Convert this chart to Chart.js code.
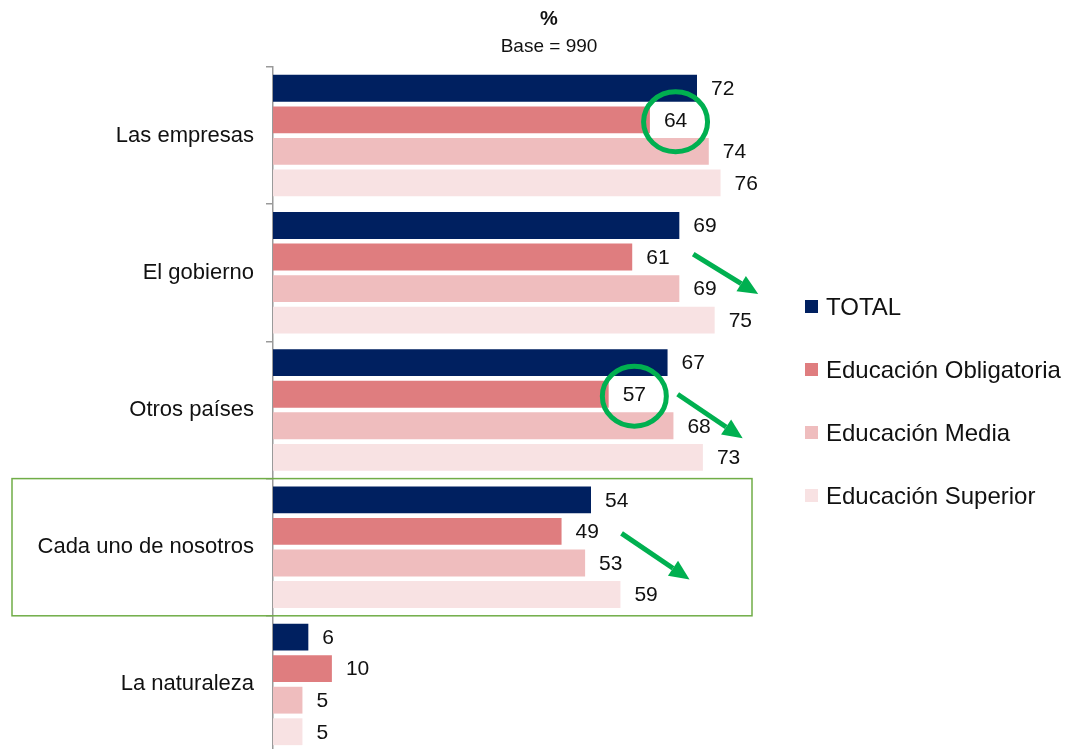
<!DOCTYPE html>
<html>
<head>
<meta charset="utf-8">
<script src="https://cdn.jsdelivr.net/npm/chart.js@4/dist/chart.umd.min.js"></script>
<style>
html,body{margin:0;padding:0;background:#fff;overflow:hidden;}
#wrap{width:1070px;height:753px;position:relative;}
</style>
</head>
<body>
<div id="wrap"><canvas id="c" width="1070" height="753"></canvas></div>
<script>
const categories = ["Las empresas", "El gobierno", "Otros países", "Cada uno de nosotros", "La naturaleza"];
const seriesNames = ["TOTAL", "Educación Obligatoria", "Educación Media", "Educación Superior"];
const total = [72, 69, 67, 54, 6];
const obligatoria = [64, 61, 57, 49, 10];
const media = [74, 69, 68, 53, 5];
const superior = [76, 75, 73, 59, 5];
const colors = ["#002060", "#DF7D7F", "#EFBDBE", "#F8E2E3"];
const titleText = "%";
const subtitleText = "Base = 990";
const circled = [[1, 0], [1, 2]];          // [dataset, category] labels circled
const arrowBars = [[1, 1], [1, 2], [1, 3]]; // arrows drawn after these bars
const boxedCategory = 3;

const FONT = "'Liberation Sans', Arial, sans-serif";
const GREEN = "#00B050";
// arrow geometry relative to the bar end: [startDx, startDy, vecX, vecY]
const arrowGeom = [[61, -3, 65, 40], [69, 0, 65, 44], [60, 2, 68, 46]];

const annotate = {
  id: 'annotate',
  afterDatasetsDraw(chart) {
    const ctx = chart.ctx;
    ctx.save();
    // titles
    ctx.fillStyle = "#111";
    ctx.textAlign = "center";
    ctx.textBaseline = "middle";
    ctx.font = "bold 20px " + FONT;
    ctx.fillText(titleText, 549, 19);
    ctx.font = "19px " + FONT;
    ctx.fillText(subtitleText, 549, 47);
    // value labels
    ctx.font = "21px " + FONT;
    ctx.textAlign = "left";
    chart.data.datasets.forEach((ds, i) => {
      chart.getDatasetMeta(i).data.forEach((el, j) => {
        ctx.fillText(String(ds.data[j]), el.x + 14, el.y + 1);
      });
    });
    // circles
    ctx.strokeStyle = GREEN;
    ctx.lineWidth = 5;
    circled.forEach(([d, j]) => {
      const el = chart.getDatasetMeta(d).data[j];
      const w = ctx.measureText(String(chart.data.datasets[d].data[j])).width;
      const cx = el.x + 14 + w / 2;
      ctx.beginPath();
      ctx.ellipse(cx, el.y + 2, 32, 30, 0, 0, Math.PI * 2);
      ctx.stroke();
    });
    // arrows
    arrowBars.forEach(([d, j], k) => {
      const el = chart.getDatasetMeta(d).data[j];
      const g = arrowGeom[k];
      const x0 = el.x + g[0], y0 = el.y + g[1];
      const x1 = x0 + g[2], y1 = y0 + g[3];
      const ang = Math.atan2(y1 - y0, x1 - x0);
      const hl = 20, hw = 9;
      const bx = x1 - hl * Math.cos(ang), by = y1 - hl * Math.sin(ang);
      ctx.strokeStyle = GREEN;
      ctx.fillStyle = GREEN;
      ctx.lineWidth = 5;
      ctx.beginPath();
      ctx.moveTo(x0, y0);
      ctx.lineTo(bx, by);
      ctx.stroke();
      ctx.beginPath();
      ctx.moveTo(x1, y1);
      ctx.lineTo(bx + hw * Math.sin(ang), by - hw * Math.cos(ang));
      ctx.lineTo(bx - hw * Math.sin(ang), by + hw * Math.cos(ang));
      ctx.closePath();
      ctx.fill();
    });
    // box around category
    const ys = chart.scales.y;
    const band = (ys.getPixelForValue(1) - ys.getPixelForValue(0));
    const cy = ys.getPixelForValue(boxedCategory);
    ctx.strokeStyle = "#70AD47";
    ctx.lineWidth = 1.5;
    ctx.strokeRect(12, cy - band / 2, chart.chartArea.left + 479 - 12, band);
    // legend
    ctx.font = "24px " + FONT;
    ctx.textBaseline = "middle";
    seriesNames.forEach((n, i) => {
      const y = 307 + i * 63;
      ctx.fillStyle = colors[i];
      ctx.fillRect(805, y - 7, 13, 13);
      ctx.fillStyle = "#111";
      ctx.fillText(n, 826, y + 1);
    });
    ctx.restore();
  }
};

new Chart(document.getElementById('c'), {
  type: 'bar',
  data: {
    labels: categories,
    datasets: [
      { label: seriesNames[0], data: total, backgroundColor: colors[0] },
      { label: seriesNames[1], data: obligatoria, backgroundColor: colors[1] },
      { label: seriesNames[2], data: media, backgroundColor: colors[2] },
      { label: seriesNames[3], data: superior, backgroundColor: colors[3] }
    ]
  },
  options: {
    indexAxis: 'y',
    responsive: false,
    animation: false,
    devicePixelRatio: 1,
    datasets: { bar: { categoryPercentage: 0.92, barPercentage: 0.85, borderWidth: 0 } },
    layout: { padding: { left: 28, right: 267, top: 67, bottom: 0 } },
    plugins: {
      legend: { display: false },
      tooltip: { enabled: false },
      title: { display: false },
      subtitle: { display: false }
    },
    scales: {
      x: { display: false, min: 0, max: 90 },
      y: {
        afterFit(scale) { scale.width = 245; scale.paddingTop = 0; scale.paddingBottom = 0; },
        border: { display: true, color: "#9a9a9a", width: 1.5 },
        grid: { offset: true, drawOnChartArea: false, drawTicks: true, tickLength: 7, color: "#9a9a9a", lineWidth: 1.5 },
        ticks: { color: "#111", font: { family: FONT, size: 22 }, padding: 12 }
      }
    }
  },
  plugins: [annotate]
});
</script>
</body>
</html>
